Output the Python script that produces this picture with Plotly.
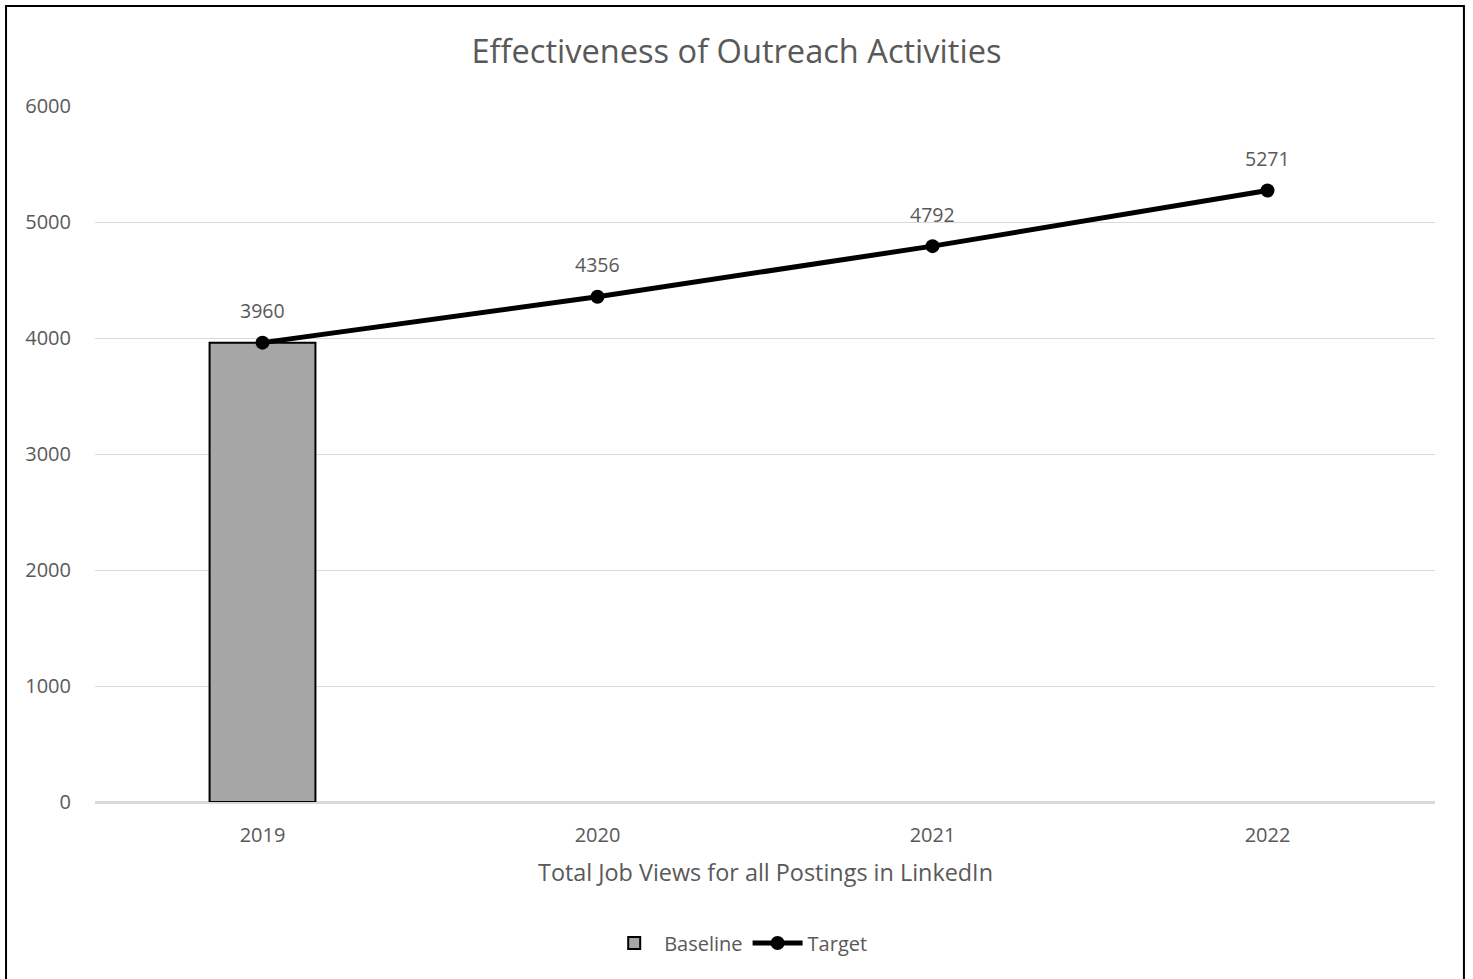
import plotly.graph_objects as go

years = ["2019", "2020", "2021", "2022"]
baseline_years = ["2019"]
baseline_values = [3960]
target_values = [3960, 4356, 4792, 5271]

font_family = "'Open Sans', Lato, sans-serif"
text_color = "#595959"

fig = go.Figure()

fig.add_trace(go.Bar(
    x=baseline_years,
    y=baseline_values,
    name="Baseline",
    width=0.316,
    marker=dict(color="#a6a6a6", line=dict(color="#000000", width=2)),
))

fig.add_trace(go.Scatter(
    x=years,
    y=target_values,
    name="Target",
    mode="lines+markers",
    line=dict(color="#000000", width=5),
    marker=dict(color="#000000", size=14),
))

# value labels above each target point (category index as x position)
for i, val in enumerate(target_values):
    fig.add_annotation(
        x=i, y=val, xref="x", yref="y", text=str(val), showarrow=False,
        yshift=32, font=dict(family=font_family, size=19.5, color=text_color),
    )

# horizontal-axis caption
fig.add_annotation(
    x=0.5, y=-0.1006, xref="paper", yref="paper",
    text="Total Job Views for all Postings in LinkedIn",
    showarrow=False, yanchor="middle",
    font=dict(family=font_family, size=23.4, color=text_color),
)

# chart frame
fig.add_shape(
    type="rect", xref="paper", yref="paper",
    x0=-0.0664, x1=1.0216, y0=-0.27, y1=1.1437,
    line=dict(color="#000000", width=2), fillcolor="rgba(0,0,0,0)",
)

fig.update_layout(
    width=1473,
    height=979,
    margin=dict(l=95, r=38, t=106, b=177),
    paper_bgcolor="white",
    plot_bgcolor="white",
    font=dict(family=font_family, color=text_color, size=20),
    title=dict(
        text="Effectiveness of Outreach Activities",
        x=0.5, xref="container", xanchor="center",
        y=1 - 52 / 979, yanchor="middle",
        font=dict(family=font_family, size=32.6, color=text_color),
    ),
    showlegend=True,
    legend=dict(
        orientation="h", x=0.48, xanchor="center",
        y=-0.2026, yanchor="middle",
        font=dict(family=font_family, size=20, color=text_color),
        itemwidth=50,
    ),
    xaxis=dict(
        type="category",
        categoryorder="array",
        categoryarray=years,
        range=[-0.5, 3.5],
        showgrid=False,
        showline=True,
        linecolor="#d9d9d9",
        linewidth=2,
        ticks="outside",
        ticklen=14,
        tickcolor="rgba(0,0,0,0)",
        tickfont=dict(family=font_family, size=20, color=text_color),
    ),
    yaxis=dict(
        range=[0, 6000],
        dtick=1000,
        showgrid=True,
        gridcolor="#d9d9d9",
        gridwidth=1,
        zeroline=True,
        zerolinecolor="#d9d9d9",
        zerolinewidth=2,
        showline=False,
        ticks="outside",
        ticklen=19,
        tickcolor="rgba(0,0,0,0)",
        tickfont=dict(family=font_family, size=20, color=text_color),
    ),
)

fig.write_html("out.html")
